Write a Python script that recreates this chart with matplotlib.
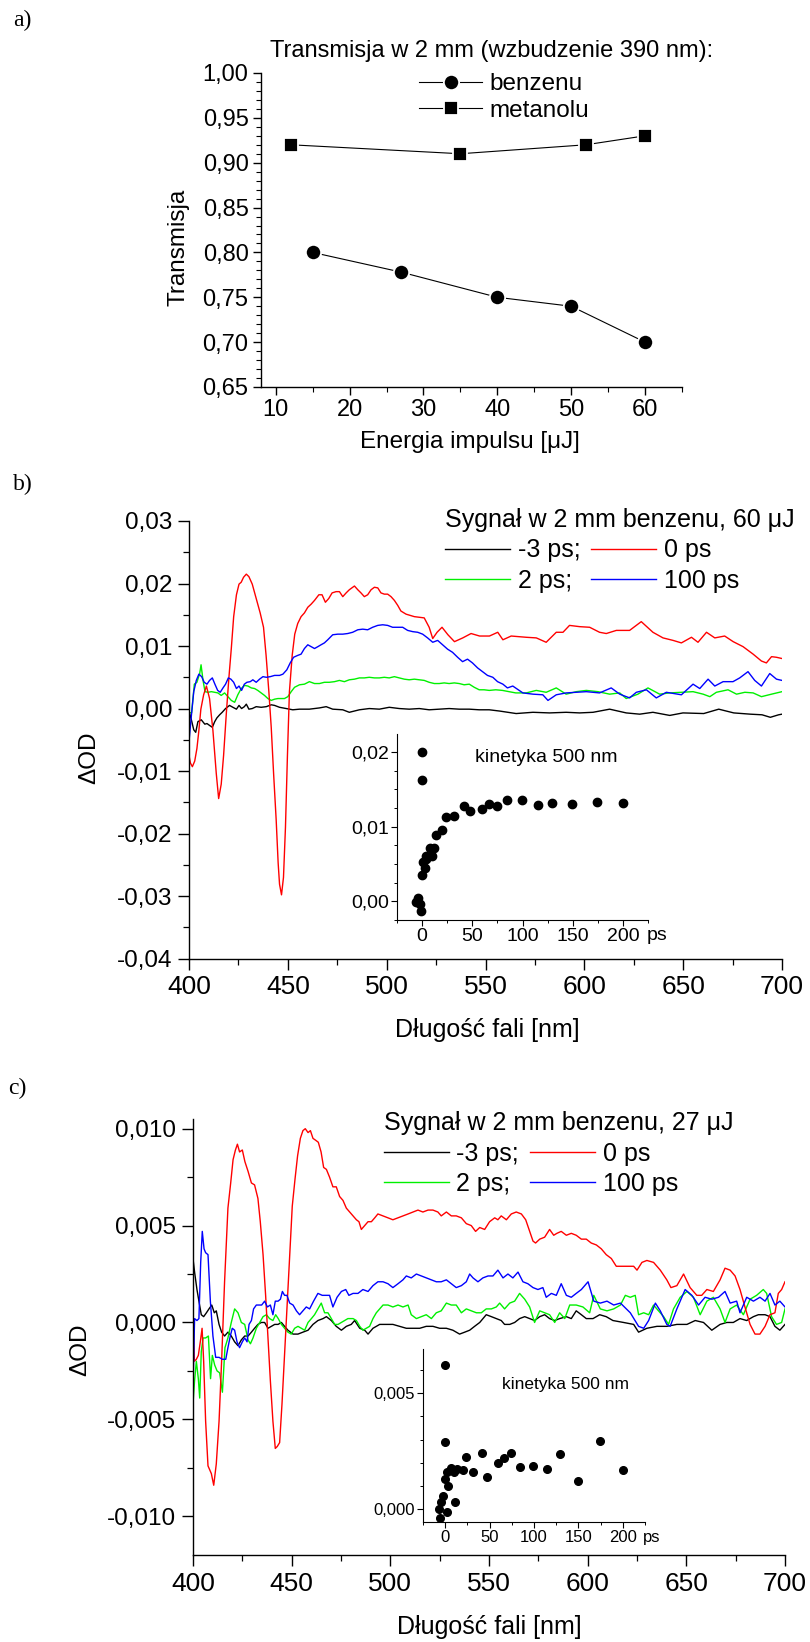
import matplotlib
matplotlib.use('Agg')
import matplotlib.pyplot as plt
from matplotlib.ticker import MultipleLocator, FuncFormatter

plt.rcParams['font.family'] = ['Liberation Sans', 'DejaVu Sans']

# ---------------- data ----------------
# panel a
benz_E = [15, 27, 40, 50, 60]
benz_T = [0.80, 0.778, 0.75, 0.74, 0.70]
met_E = [12, 35, 52, 60]
met_T = [0.92, 0.91, 0.92, 0.93]

# panel b spectra (wavelength nm, dOD), 60 uJ
black_b = [(400,-0.0004),(401.2,-0.0018),(402.4,-0.0034),(403.4,-0.0038),(404.5,-0.0021),(406.2,-0.0018),(408,-0.0025),(409.1,-0.0024),(410.4,-0.0027),(411.8,-0.003),(413,-0.0021),(414.1,-0.0015),(415.5,-0.001),(416.8,-0.0006),(418.5,0),(420.5,0.0005),(422.2,0.0002),(424,-0.0001),(425.3,0.0005),(426.6,0),(428,0.0003),(429,0.0007),(430.3,-0.0001),(432,0),(434,0.0003),(436.5,0.0002),(439.1,0.0003),(441.6,0.0006),(443.3,0.0005),(445.8,0.0002),(449.2,0),(452.5,-0.0002),(455.9,-0.0001),(460.9,-0.0001),(466,0.0001),(469.4,0.0003),(472.7,-0.0001),(477.8,-0.0002),(481.1,-0.0006),(486.2,-0.0002),(491.2,0),(496.3,-0.0001),(501.3,0.0002),(506.4,0),(511.4,-0.0001),(516.5,0),(521.5,-0.0002),(526.6,-0.0001),(531.6,0),(536.7,-0.0001),(541.8,-0.0001),(546.8,-0.0002),(551.9,-0.0002),(557.1,-0.0004),(565.5,-0.0008),(574,-0.0006),(582.4,-0.0007),(590.8,-0.0006),(597.6,-0.0007),(604.4,-0.0006),(612.8,-0.0001),(621.2,-0.0007),(628,-0.0009),(634.7,-0.0006),(643.2,-0.0011),(649.9,-0.0007),(660.4,-0.0008),(668,-0.0001),(675.6,-0.0007),(684,-0.0009),(689.9,-0.001),(694.1,-0.0014),(698.3,-0.001),(700,-0.0009)]
red_b = [(400,-0.0075),(400.7,-0.0087),(401.7,-0.0093),(402.9,-0.0084),(404,-0.0064),(405,-0.0035),(406,-0.0001),(407.4,0.0022),(408.8,0.0036),(410.4,0.0016),(412.1,-0.0035),(413.8,-0.0104),(415,-0.0144),(416.3,-0.0121),(417.5,-0.0075),(418.9,-0.0007),(420.2,0.005),(421.4,0.0096),(422.6,0.0147),(424,0.0182),(425.3,0.0199),(426.4,0.0202),(427.6,0.021),(429,0.0215),(430.3,0.0211),(432,0.0199),(434,0.0176),(436,0.0153),(437.7,0.013),(439,0.0085),(440.4,0.0027),(441.6,-0.003),(442.8,-0.0104),(444.1,-0.0178),(445.1,-0.0247),(445.8,-0.0281),(446.8,-0.0298),(447.8,-0.027),(448.8,-0.019),(449.8,-0.0075),(450.8,0.0027),(452.2,0.0085),(453.5,0.0119),(455,0.0136),(456.7,0.0147),(458.4,0.0153),(460.1,0.0162),(461.8,0.0167),(463.5,0.0173),(465.7,0.0182),(467.3,0.0182),(469,0.017),(470.7,0.0176),(472.4,0.0185),(474.4,0.0187),(476.1,0.0187),(477.8,0.0179),(479.5,0.0185),(481.1,0.019),(483.7,0.0196),(485.4,0.019),(487,0.0185),(488.7,0.0179),(490.4,0.0182),(492.1,0.019),(493.8,0.0194),(495.5,0.0193),(497.1,0.0185),(498.8,0.0183),(500.5,0.0183),(502.2,0.0179),(503.9,0.0173),(505.6,0.0165),(507.2,0.0156),(509.8,0.0151),(514,0.0147),(519,0.0145),(521.5,0.013),(523.3,0.0112),(525.5,0.0122),(528,0.013),(531,0.0118),(534.3,0.0107),(538.5,0.0113),(542.7,0.012),(547,0.0116),(552,0.0116),(556.2,0.0122),(558.8,0.011),(563,0.0116),(570.6,0.0114),(575.7,0.0113),(580.7,0.0106),(585.8,0.0122),(589.2,0.0122),(592.5,0.0133),(597.6,0.0131),(602.7,0.013),(607.7,0.0122),(611.1,0.012),(616.2,0.0125),(622.9,0.0125),(628.8,0.0139),(634.7,0.0122),(639.8,0.0113),(644.9,0.0109),(649.1,0.0105),(654.2,0.0114),(657.5,0.0106),(661.8,0.0122),(666,0.0113),(671,0.0116),(675.3,0.0107),(680.3,0.0099),(685.4,0.0087),(689.6,0.0076),(692.1,0.0073),(694.7,0.0083),(697.2,0.0082),(700,0.008)]
green_b = [(400,-0.0006),(401.3,-0.0007),(402.7,0.0039),(404,0.0042),(405.4,0.0056),(406.1,0.007),(407.1,0.0045),(408.1,0.0027),(409.6,0.0026),(411.3,0.0027),(413,0.0026),(414.6,0.0025),(416.3,0.0021),(418,0.0025),(419.7,0.0019),(421.4,0.0013),(423.1,0.001),(424.7,0.0022),(426.4,0.0032),(428.1,0.0037),(429.8,0.0036),(431.5,0.0033),(433.2,0.0032),(434.8,0.0029),(436.5,0.0025),(438.2,0.0021),(439.9,0.0016),(441.6,0.0013),(443.3,0.0015),(445,0.0016),(446.6,0.0016),(448.3,0.0016),(450,0.0019),(451.7,0.0027),(453.4,0.0034),(455.9,0.0038),(458.4,0.0039),(460.9,0.0043),(463.5,0.004),(466,0.004),(468.5,0.0042),(471,0.0042),(473.6,0.0043),(476.1,0.0045),(478.6,0.0043),(481.1,0.0046),(483.7,0.0047),(486.2,0.0049),(488.7,0.0049),(491.2,0.005),(493.8,0.0049),(496.3,0.0049),(498.8,0.005),(501.3,0.0049),(503.9,0.0051),(506.4,0.0049),(508.9,0.0047),(511.4,0.0046),(514,0.0047),(516.5,0.0046),(519,0.0045),(521.5,0.0042),(524.1,0.004),(526.6,0.004),(529.1,0.0041),(531.6,0.004),(534.2,0.0041),(536.7,0.004),(539.2,0.0038),(541.8,0.0039),(544.3,0.0034),(546.8,0.003),(549.3,0.003),(551.9,0.0029),(555.2,0.003),(558.6,0.0029),(561.9,0.0027),(565.3,0.0025),(570.6,0.0025),(575.7,0.0029),(580.7,0.0026),(585.8,0.0033),(590.8,0.0023),(595.9,0.0027),(601,0.0029),(606.9,0.0027),(612.8,0.0023),(617.9,0.0025),(621.2,0.0016),(627.1,0.0023),(632.2,0.0033),(638.1,0.0023),(643.2,0.0025),(649.1,0.0026),(655,0.0027),(660.1,0.0023),(663.5,0.0019),(666.8,0.0026),(672.7,0.003),(677,0.0023),(681.2,0.0026),(685.4,0.0025),(689.6,0.0019),(694.7,0.0023),(700,0.0027)]
blue_b = [(400,-0.0053),(401,-0.0018),(402.4,0.0027),(403.7,0.0045),(405,0.0055),(406.4,0.0051),(407.7,0.0042),(409.1,0.0039),(410.4,0.0045),(411.8,0.0049),(413.1,0.0039),(414.5,0.0029),(415.8,0.0026),(417.2,0.0033),(418.5,0.0039),(419.9,0.0049),(421.2,0.0047),(422.6,0.0042),(424,0.0032),(425.3,0.0036),(426.6,0.0029),(428,0.0039),(429.3,0.0042),(431,0.0043),(432.3,0.0046),(434,0.0042),(435.7,0.0047),(437.4,0.0051),(439.1,0.005),(441.1,0.0051),(443.3,0.0053),(445.8,0.0053),(447.5,0.0055),(449.5,0.0062),(451.2,0.0073),(452.9,0.0082),(455,0.0085),(456.7,0.0087),(458.4,0.0096),(460.1,0.0102),(461.8,0.0099),(463.5,0.0096),(465.2,0.0099),(466.8,0.0102),(468.5,0.0105),(470.2,0.011),(472.7,0.0118),(475.3,0.0119),(477.8,0.0119),(480.3,0.012),(482.8,0.0122),(485.4,0.0126),(487.9,0.0127),(490.4,0.0126),(492.9,0.013),(495.5,0.0133),(498,0.0134),(500.5,0.0133),(503,0.013),(505.6,0.013),(508.1,0.013),(510.6,0.0125),(513.2,0.0123),(515.7,0.0122),(518.2,0.0119),(520.7,0.0113),(523.3,0.0106),(525.8,0.0109),(528.3,0.0102),(530.8,0.0095),(533.3,0.009),(535.9,0.0082),(538.4,0.0075),(540.9,0.0079),(543.4,0.0073),(546,0.0065),(548.5,0.0059),(551,0.0053),(553.7,0.005),(556.1,0.0043),(558.8,0.0039),(561.1,0.0033),(563.8,0.0036),(568.9,0.0025),(574,0.0023),(579,0.0022),(581.6,0.0013),(585.8,0.0022),(590.8,0.0025),(595.9,0.0026),(601,0.0027),(607.7,0.0025),(613.6,0.0033),(617.9,0.0023),(622.9,0.0017),(626.3,0.0026),(631.4,0.003),(636.4,0.0017),(641.5,0.0026),(649.1,0.0022),(655,0.0039),(658.4,0.0032),(662.6,0.0047),(666,0.0036),(670.2,0.0043),(675.2,0.0043),(678.6,0.0049),(682.8,0.0059),(686.2,0.0045),(689.6,0.0036),(693.8,0.0056),(697.2,0.0047),(700,0.0045)]

# inset b kinetics at 500 nm (ps, dOD)
kin_b = [(0,0.0200),(0,0.0163),(-6.3,-0.0001),(-4,0.0004),(-2.3,-0.0003),(-0.7,-0.0013),(0,0.0035),(1,0.0052),(2.7,0.0044),(3.6,0.0056),(4.3,0.0061),(7.6,0.0072),(10,0.0061),(12,0.0072),(13.6,0.0089),(19.9,0.0096),(24.2,0.0113),(31.8,0.0114),(41.8,0.0127),(47.4,0.0121),(59.7,0.0123),(66.7,0.013),(74.6,0.0127),(84.6,0.0135),(99.8,0.0135),(115.4,0.0129),(129.7,0.0131),(149.6,0.013),(174.5,0.0133),(200,0.0131)]

# panel c spectra, 27 uJ
black_c = [(400,0.0033),(400.8,0.0026),(402,0.0017),(403,0.0011),(404.2,0.0004),(405.4,0.0003),(406.8,0.0005),(408.1,0.0007),(409.5,0.0009),(410.8,0.0005),(411.8,0.0006),(413.2,-0.0001),(414.5,-0.0005),(416,-0.0007),(417.7,-0.0005),(419.4,-0.0007),(421.1,-0.001),(422.8,-0.0012),(424.5,-0.0009),(426.2,-0.0007),(427.9,-0.0007),(429.6,-0.0005),(431.2,-0.0003),(432.9,-0.0001),(434.6,0),(436.3,0),(438,-0.0003),(439.7,-0.0002),(441.4,-0.0001),(443.1,-0.0001),(444.8,0),(446.4,-0.0002),(448.1,-0.0004),(450.7,-0.0006),(453.2,-0.0006),(455.7,-0.0005),(458.3,-0.0004),(460.8,-0.0001),(463.3,0.0001),(465.9,0.0002),(467.6,0.0003),(470.1,0.0001),(472.6,-0.0002),(475.2,-0.0004),(477.7,-0.0002),(480.2,-0.0001),(481.9,0.0001),(484.5,-0.0003),(487,-0.0004),(488.7,-0.0006),(491.2,-0.0003),(494.6,-0.0001),(498,-0.0001),(501.3,-0.0001),(504.7,-0.0002),(508.1,-0.0003),(511.5,-0.0003),(514.9,-0.0003),(518.2,-0.0002),(521.6,-0.0002),(525,-0.0003),(528.4,-0.0003),(531.7,-0.0004),(535.1,-0.0006),(537.7,-0.0005),(540.2,-0.0004),(542.7,-0.0002),(545.3,0),(548.6,0.0004),(551.2,0.0003),(553.7,0.0002),(556.2,0.0001),(557.9,-0.0001),(560.5,-0.0001),(563,0),(565.5,0.0002),(568.1,0.0003),(570.6,0.0002),(573.1,0.0001),(575.7,0.0003),(578.2,0.0004),(580.7,0.0002),(583.3,0.0001),(585.8,0.0002),(589.2,0.0003),(591.7,0.0002),(594.2,0.0006),(596.8,0.0004),(599.3,0.0002),(602.7,0.0002),(606.1,0.0004),(609.4,0.0003),(612.8,0.0001),(618.2,0),(623.3,-0.0001),(625.8,-0.0005),(630,-0.0003),(635.1,-0.0002),(640.1,-0.0002),(645.2,-0.0001),(650.3,-0.0001),(654.5,0.0001),(658.7,0),(662.9,-0.0004),(667.1,-0.0001),(670.5,0),(673.8,0),(677.2,0.0002),(680.6,0.0001),(684,0.0003),(686.5,0.0004),(689.9,0.0004),(692.4,0.0003),(694.9,-0.0002),(697.4,-0.0004),(700,-0.0001)]
red_c = [(400,0.0007),(400.7,-0.002),(401.7,-0.0019),(402.7,-0.0017),(403.7,-0.001),(404.6,-0.0003),(405.4,-0.002),(406.4,-0.0051),(407.6,-0.0074),(409.3,-0.0078),(410.5,-0.0084),(411.8,-0.0073),(413.2,-0.0051),(414.5,-0.002),(416,0.0021),(417.7,0.0059),(419.1,0.0072),(420.3,0.0084),(421.5,0.0089),(422.5,0.0092),(423.6,0.0088),(425,0.0089),(426.3,0.0083),(427.9,0.0078),(429.6,0.0072),(431.2,0.0071),(432.9,0.0064),(434.1,0.0052),(435.5,0.0035),(436.8,0.0014),(438,-0.0008),(439.2,-0.003),(440.5,-0.0051),(441.7,-0.0065),(442.7,-0.0064),(443.9,-0.0062),(445.1,-0.0042),(446.4,-0.0017),(447.6,0.0007),(449,0.0035),(450.3,0.006),(451.7,0.0074),(453,0.0086),(454.4,0.0095),(455.7,0.0099),(456.9,0.01),(458.3,0.0098),(459.5,0.0099),(460.8,0.0095),(462.2,0.0094),(463.5,0.0093),(464.9,0.0088),(466.2,0.008),(467.6,0.0079),(469.2,0.0075),(470.9,0.007),(472.6,0.007),(474.3,0.0065),(476,0.0063),(477.7,0.0059),(479.4,0.0057),(481.1,0.0055),(482.8,0.0053),(484.1,0.0052),(485.3,0.0048),(487,0.005),(488.7,0.0052),(490.4,0.0052),(492.1,0.0054),(493.7,0.0056),(496.3,0.0055),(498.8,0.0054),(501.3,0.0053),(503.9,0.0054),(506.4,0.0055),(509,0.0056),(511.5,0.0057),(514,0.0058),(516.5,0.0057),(519.1,0.0058),(521.6,0.0058),(524.1,0.0057),(525.8,0.0055),(528.4,0.0057),(530.9,0.0055),(533.4,0.0055),(536,0.0054),(538.5,0.0051),(541,0.005),(543.2,0.0047),(545.3,0.0049),(547.8,0.0048),(550.3,0.0052),(552.9,0.0054),(554.5,0.0053),(556.2,0.0055),(558.8,0.0053),(561.3,0.0056),(563.8,0.0057),(566.4,0.0056),(568.6,0.0053),(570.6,0.0047),(572.3,0.0042),(573.6,0.0041),(575.7,0.0043),(578.2,0.0044),(580.7,0.0048),(582.8,0.0045),(584.4,0.0046),(586.6,0.0047),(589.2,0.0045),(591.7,0.0046),(594.2,0.0045),(596.8,0.0043),(599.3,0.0043),(601.8,0.0041),(604.4,0.004),(606.9,0.0038),(609.4,0.0035),(612,0.0033),(614.5,0.0029),(619.1,0.0029),(623.3,0.0029),(625,0.0027),(627.5,0.0031),(630,0.0032),(633.4,0.0031),(636.8,0.0027),(640.1,0.0022),(642.2,0.0018),(645.2,0.0019),(648.6,0.0025),(651.9,0.0018),(655.3,0.0014),(657.8,0.0014),(660.4,0.0017),(663.7,0.0016),(667.1,0.0022),(669.6,0.0028),(672.2,0.0027),(674.7,0.0024),(677.2,0.0017),(679.7,0.0008),(682.3,-0.0001),(684.8,-0.0006),(687.3,-0.0006),(689.9,-0.0002),(692.4,0.0004),(694.9,0.0005),(696.6,0.0015),(698.3,0.0017),(700,0.0021)]
green_c = [(400,-0.0042),(400.8,-0.003),(401.7,-0.002),(402.7,-0.0029),(403.4,-0.0039),(404.2,-0.0015),(405.1,-0.0008),(406.4,-0.0008),(407.8,-0.0007),(408.9,-0.0029),(409.8,-0.0017),(411,-0.0022),(412.2,-0.0025),(413.5,-0.0026),(414.9,-0.0036),(416.2,-0.0013),(417.7,-0.0008),(419.4,0),(421.1,0.0007),(422.8,0.0005),(424.5,0),(426.2,-0.0001),(427.9,-0.0009),(429.1,-0.0011),(430.4,-0.0008),(432.1,-0.0003),(433.8,0),(435.5,0.0003),(437.2,0.0004),(438.8,0.0002),(440.5,0.0001),(441.9,0.0004),(443.2,0.0002),(444.8,-0.0001),(446.4,-0.0003),(448.1,-0.0005),(449.8,-0.0006),(451.5,-0.0003),(453.2,-0.0002),(454.9,-0.0003),(456.6,-0.0004),(458.3,0),(460,0.0002),(461.6,0.0004),(463.3,0.0007),(465,0.001),(466.7,0.0005),(468.4,0.0005),(470.1,0.0002),(471.8,-0.0001),(473.5,-0.0001),(475.2,0),(476.8,0.0001),(478.5,0.0002),(481.1,0.0002),(482.8,0.0001),(484.5,-0.0002),(486.1,-0.0004),(487.8,-0.0003),(489.5,-0.0002),(491.2,0.0002),(492.9,0.0005),(494.6,0.0007),(496.3,0.0009),(498.8,0.0009),(501.3,0.0008),(503.9,0.0009),(506.4,0.0008),(509,0.0009),(510.6,0.0004),(513.2,0.0002),(515.7,0.0003),(518.2,0.0004),(520.8,0.0002),(523.3,0.0005),(525.8,0.0006),(528.4,0.001),(530.9,0.0009),(533.4,0.0009),(536,0.0005),(538.5,0.0007),(541,0.0006),(543.6,0.0005),(546.1,0.0005),(548.6,0.0007),(551.2,0.0007),(553.7,0.0008),(555.4,0.001),(557.9,0.0007),(560.5,0.001),(563,0.0011),(565.5,0.0015),(568.1,0.0012),(570.6,0.0008),(573.1,0),(575.7,0.0006),(578.2,0.0005),(580.7,0.0004),(583.3,0),(585.8,0.0005),(588.4,0.0002),(590.9,0.0009),(594.2,0.0009),(597.6,0.0008),(601,0.0005),(603.1,0.0014),(606.4,0.0007),(609.8,0.0006),(613.2,0.0007),(616.6,0.0009),(619.1,0.0014),(621.6,0.0013),(624.1,0.0014),(625.8,0.0004),(628.4,0.0005),(630.9,0.0004),(633.4,0.0009),(635.9,0.0006),(638.5,0.0003),(641,-0.0001),(643.5,0.0007),(646.9,0.0013),(650.3,0.0016),(653.6,0.0013),(657,0.0004),(660.4,0.0011),(663.7,0.0013),(667.1,0.0007),(669.6,0),(672.2,0.0007),(675.5,0.0009),(678.9,0.0004),(682.3,0.0012),(685.6,0.0014),(689,0.0017),(690.7,0.0015),(693.2,0.0003),(695.7,-0.0001),(698.3,0),(700,0.0007)]
blue_c = [(400,-0.0034),(400.8,0.0002),(402,0.0001),(403,0.0002),(403.9,0.0031),(404.7,0.0047),(405.6,0.0038),(406.4,0.0036),(407.6,0.0035),(408.8,0.0011),(410.1,-0.0007),(411.5,-0.0018),(413.2,-0.0018),(414.9,-0.0019),(416.6,-0.0019),(417.7,-0.0013),(418.9,-0.0007),(419.9,-0.0003),(421.1,-0.0004),(422.3,-0.001),(423.6,-0.0013),(425,-0.001),(426.2,-0.0008),(427.4,-0.001),(428.4,-0.0001),(429.6,0.0001),(430.7,0.0007),(432.1,0.0009),(433.4,0.0009),(434.8,0.0009),(436.3,0.0011),(437.7,0.0008),(439.2,0.0009),(440.5,0.0004),(441.7,0.0011),(443.1,0.0011),(444.3,0.0012),(445.3,0.0016),(446.4,0.0014),(447.6,0.0014),(449,0.001),(450.7,0.0009),(452.4,0.0006),(454,0.0004),(455.7,0.0006),(457.4,0.0008),(459.1,0.0007),(461.1,0.0011),(463.3,0.0015),(465.5,0.0014),(467.6,0.0014),(469.2,0.0014),(470.9,0.0008),(473,0.0013),(475.2,0.0016),(477.4,0.0017),(479,0.0014),(481.1,0.0015),(483.6,0.0015),(486.1,0.0017),(488.7,0.0016),(491.2,0.0019),(493.7,0.0021),(496.3,0.0021),(498.8,0.002),(501.3,0.0018),(503.9,0.002),(506.4,0.0022),(508.1,0.0024),(510.6,0.0023),(513.2,0.0025),(515.7,0.0024),(518.2,0.0023),(520.8,0.0022),(523.3,0.0021),(525.8,0.0021),(528.4,0.0022),(530.9,0.002),(533.4,0.0018),(536,0.0019),(538.5,0.0021),(540.2,0.0025),(541.9,0.0023),(544.4,0.0021),(546.9,0.0023),(549.5,0.0024),(552,0.0024),(554.5,0.0027),(557.1,0.0023),(559.6,0.0025),(562.1,0.0023),(564.7,0.0026),(567.2,0.0021),(569.7,0.002),(572.3,0.0018),(574.8,0.0017),(577.3,0.0018),(579,0.0013),(581.6,0.0015),(584.1,0.0014),(586.6,0.002),(589.2,0.0014),(591.7,0.0013),(594.2,0.0015),(596.8,0.0017),(600.2,0.0021),(603.1,0.0011),(606.4,0.001),(609.8,0.0011),(613.2,0.0009),(616.6,0.001),(621.6,0.0005),(625.8,-0.0002),(628.4,-0.0003),(630.9,0.0001),(634.3,0.001),(636.8,0.0006),(640.1,-0.0001),(641.8,-0.0002),(645.2,0.0007),(649.4,0.0017),(652.8,0.0014),(656.2,0.0009),(659.5,0.0013),(662.9,0.0012),(666.3,0.0013),(669.6,0.0016),(672.2,0.001),(675.5,0.0011),(677.2,0.0005),(680.6,0.0013),(684,0.0011),(687.3,0.0013),(689.9,0.0011),(692.4,0.0015),(694.9,0.0009),(697.4,0.0011),(700,0.0008)]

# inset c kinetics at 500 nm
kin_c = [(0,0.0062),(0,0.0029),(-6.8,0.00003),(-4.9,0.00029),(-2.3,0.00055),(-6,-0.00036),(1.5,-0.00012),(2.6,0.00101),(0,0.0013),(1.5,0.0016),(6.4,0.00177),(10.2,0.0016),(11.3,0.00033),(13.2,0.00174),(19.5,0.00171),(23.3,0.00223),(31.6,0.0016),(41.4,0.00243),(47,0.00138),(59,0.00199),(66.5,0.00219),(74.4,0.00241),(84.6,0.00184),(99.2,0.00186),(114.7,0.00174),(129.7,0.00238),(149.6,0.00123),(174.4,0.00293),(200,0.00171)]

series_labels = ['-3 ps;', '2 ps;', '0 ps', '100 ps']
series_colors = ['black', '#00f000', '#ff0000', '#0000ff']

# ---------------- figure ----------------
W, H = 810, 1642
fig = plt.figure(figsize=(W / 100, H / 100), dpi=100)


def fx(px):
    return px / W


def fy(py):
    return 1 - py / H


def rect(l, t, r, b):
    return [l / W, 1 - b / H, (r - l) / W, (b - t) / H]


def comma(dec):
    def f(v, pos):
        s = f"{v:.{dec}f}"
        if float(s) == 0:
            s = f"{0:.{dec}f}"
        return s.replace('.', ',')
    return FuncFormatter(f)


def style(ax, lw=1.0):
    for s in ['top', 'right']:
        ax.spines[s].set_visible(False)
    for s in ['left', 'bottom']:
        ax.spines[s].set_linewidth(lw)
    ax.patch.set_alpha(0)


def unzip(pairs):
    return [p[0] for p in pairs], [p[1] for p in pairs]


serif = ['Liberation Serif', 'DejaVu Serif']

# ---------------- panel a ----------------
ax_a = fig.add_axes(rect(261, 73, 682, 387))
style(ax_a)
ax_a.plot(benz_E, benz_T, '-o', color='black', lw=0.8, ms=11, mec='white', mew=1.3,
          label='benzenu', clip_on=False)
ax_a.plot(met_E, met_T, '-s', color='black', lw=0.8, ms=10, mec='white', mew=1.3,
          label='metanolu', clip_on=False)
ax_a.set_xlim(8, 65)
ax_a.set_ylim(0.65, 1.0)
ax_a.xaxis.set_major_locator(MultipleLocator(10))
ax_a.xaxis.set_minor_locator(MultipleLocator(5))
ax_a.yaxis.set_major_locator(MultipleLocator(0.05))
ax_a.yaxis.set_minor_locator(MultipleLocator(0.01))
ax_a.yaxis.set_major_formatter(comma(2))
ax_a.tick_params(which='major', direction='out', length=6, width=1, labelsize=17, pad=3)
ax_a.tick_params(which='minor', direction='out', length=3.5, width=0.8)
ax_a.legend(loc='center left', bbox_to_anchor=(fx(419), fy(97.5)), bbox_transform=fig.transFigure,
            frameon=False, fontsize=17.5, handlelength=2.6, handletextpad=0.3, labelspacing=0.2,
            borderpad=0, borderaxespad=0, numpoints=1)
fig.text(fx(270), fy(51), 'Transmisja w 2 mm (wzbudzenie 390 nm):', ha='left', va='center', fontsize=17)
fig.text(fx(178), fy(247), 'Transmisja', rotation=90, ha='center', va='center', fontsize=17.5)
fig.text(fx(470), fy(442), 'Energia impulsu [μJ]', ha='center', va='center', fontsize=17.5)
fig.text(fx(13), fy(20), 'a)', ha='left', va='center', fontsize=17, family=serif)


def spectra_panel(box, series, ylim, ymaj, ymin, ydec, legend_left, legend_top, title,
                  ylabel_xy, xlabel_xy):
    ax = fig.add_axes(rect(*box))
    style(ax)
    handles = []
    for pairs, c in zip(series, series_colors):
        x, y = unzip(pairs)
        h, = ax.plot(x, y, color=c, lw=1.0)
        handles.append(h)
    ax.set_xlim(400, 700)
    ax.set_ylim(*ylim)
    ax.xaxis.set_major_locator(MultipleLocator(50))
    ax.xaxis.set_minor_locator(MultipleLocator(25))
    ax.yaxis.set_major_locator(MultipleLocator(ymaj))
    ax.yaxis.set_minor_locator(MultipleLocator(ymin))
    ax.yaxis.set_major_formatter(comma(ydec))
    ax.tick_params(which='major', direction='out', length=8, width=1, pad=4)
    ax.tick_params(which='minor', direction='out', length=4.5, width=0.9)
    ax.tick_params(axis='x', labelsize=19)
    ax.tick_params(axis='y', labelsize=17.5)
    ax.legend(handles=handles, labels=series_labels, ncol=2, title=title, title_fontsize=18,
              fontsize=18, loc='upper left', bbox_to_anchor=(fx(legend_left), fy(legend_top)),
              bbox_transform=fig.transFigure, frameon=False, borderpad=0, borderaxespad=0,
              handlelength=2.6, handletextpad=0.3, columnspacing=0.45, labelspacing=0.26,
              alignment='left')
    fig.text(fx(ylabel_xy[0]), fy(ylabel_xy[1]), 'ΔOD', rotation=90, ha='center', va='center', fontsize=17.5)
    fig.text(fx(xlabel_xy[0]), fy(xlabel_xy[1]), 'Długość fali [nm]', ha='center', va='center', fontsize=18)
    return ax


def inset(box, pts, xlim, ylim, ymaj, ymin, ydec, fs, ms, ps_xy, kin_xy, kin_fs):
    ax = fig.add_axes(rect(*box))
    style(ax, lw=0.8)
    x, y = unzip(pts)
    ax.plot(x, y, 'o', color='black', ms=ms, ls='none')
    ax.set_xlim(*xlim)
    ax.set_ylim(*ylim)
    ax.xaxis.set_major_locator(MultipleLocator(50))
    ax.xaxis.set_minor_locator(MultipleLocator(25))
    ax.yaxis.set_major_locator(MultipleLocator(ymaj))
    ax.yaxis.set_minor_locator(MultipleLocator(ymin))
    ax.yaxis.set_major_formatter(comma(ydec))
    ax.tick_params(which='major', direction='out', length=4, width=0.8, labelsize=fs, pad=2)
    ax.tick_params(which='minor', direction='out', length=2.5, width=0.7)
    ax.text(ps_xy[0], ps_xy[1], 'ps', transform=ax.transAxes, ha='center', va='center', fontsize=fs)
    fig.text(fx(kin_xy[0]), fy(kin_xy[1]), 'kinetyka 500 nm', ha='left', va='center', fontsize=kin_fs)
    return ax


# ---------------- panel b ----------------
spectra_panel((189, 521, 782, 958.6), [black_b, green_b, red_b, blue_b], (-0.04, 0.03),
              0.01, 0.005, 2, 445, 508, 'Sygnał w 2 mm benzenu, 60 μJ',
              (89, 758), (487, 1030))
fig.text(fx(13), fy(484), 'b)', ha='left', va='center', fontsize=17, family=serif)
inset((397, 734, 648, 920), kin_b, (-25, 225), (-0.0025, 0.0224), 0.01, 0.0025, 2, 14, 6,
      (1.036, -0.086), (475, 757.5), 14)

# ---------------- panel c ----------------
spectra_panel((193, 1119, 785, 1555), [black_c, green_c, red_c, blue_c], (-0.012, 0.0105),
              0.005, 0.0025, 3, 384, 1111, 'Sygnał w 2 mm benzenu, 27 μJ',
              (80, 1350), (489, 1627))
fig.text(fx(8), fy(1088), 'c)', ha='left', va='center', fontsize=17, family=serif)
inset((423, 1349, 645, 1522), kin_c, (-25, 225), (-0.00055, 0.0069), 0.005, 0.001, 3, 12, 5.5,
      (1.028, -0.087), (502, 1384), 12.5)

fig.savefig('out.png', dpi=100)
